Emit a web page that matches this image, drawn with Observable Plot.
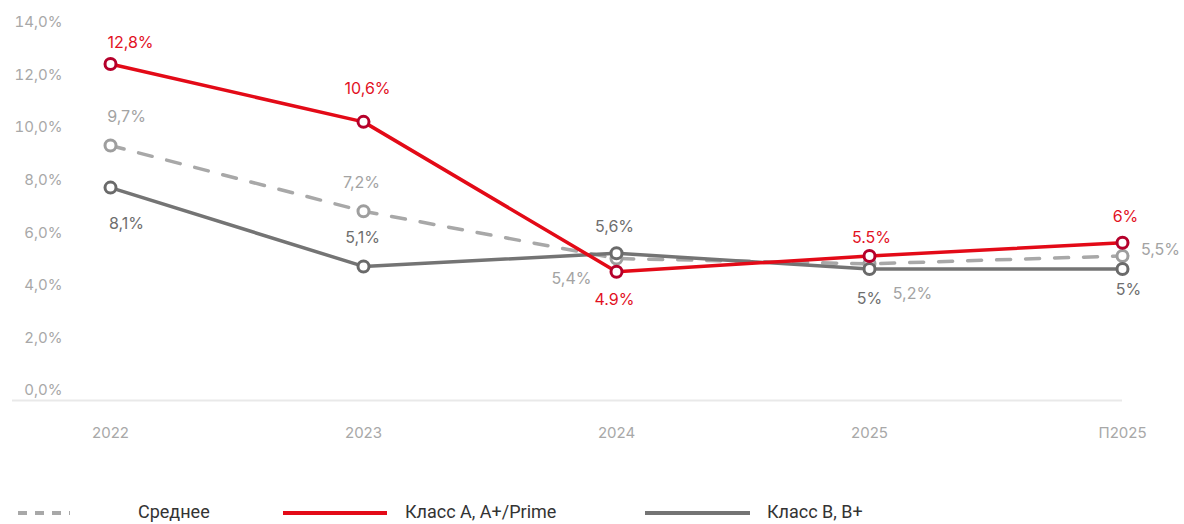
<!DOCTYPE html>
<html>
<head>
<meta charset="utf-8">
<script src="https://cdn.jsdelivr.net/npm/d3@7"></script>
<script src="https://cdn.jsdelivr.net/npm/@observablehq/plot@0.6"></script>
<style>
  html, body { margin: 0; padding: 0; background: #fff; }
  #chart { width: 1184px; }
  #legend { position: relative; width: 1184px; height: 54px; font-family: Roboto, "Noto Sans", sans-serif; font-size: 18px; color: #333; }
  #legend .sw { position: absolute; top: 41px; height: 4px; }
  #legend .lb { position: absolute; top: 31px; line-height: 22px; white-space: nowrap; }
</style>
</head>
<body>
<div id="chart"></div>
<div id="legend"></div>
<script>
// ---- data ----
const categories = ["2022", "2023", "2024", "2025", "П2025"];
const avgValues = [9.7, 7.2, 5.4, 5.2, 5.5];
const classAValues = [12.8, 10.6, 4.9, 5.5, 6.0];
const classBValues = [8.1, 5.1, 5.6, 5.0, 5.0];
const avgLabels = ["9,7%", "7,2%", "5,4%", "5,2%", "5,5%"];
const classALabels = ["12,8%", "10,6%", "4.9%", "5.5%", "6%"];
const classBLabels = ["8,1%", "5,1%", "5,6%", "5%", "5%"];
const yTicks = [0, 2, 4, 6, 8, 10, 12, 14];
const seriesNames = ["Среднее", "Класс А, А+/Prime", "Класс В, В+"];

// ---- build tables ----
const mk = (vals, labs) => categories.map((c, i) => ({cat: c, value: vals[i], label: labs[i]}));
const avg = mk(avgValues, avgLabels);
const clA = mk(classAValues, classALabels);
const clB = mk(classBValues, classBLabels);

// label placement offsets (dx, dy) per point
const avgPlace = [[16, -29], [-2, -28], [-45, 20], [43, 30], [38, -6]];
const clAPlace = [[20, -21], [4, -33], [-2, 28], [2, -18], [3, -26]];
const clBPlace = [[16, 36], [-1, -29], [-2, -26], [0, 30], [6, 21]];

const RED = "#e30a17", RED_DOT = "#b5002b", GREY = "#747474", GREY_DOT = "#6a6a6a", DASH = "#a8a8a8", DASH_DOT = "#9e9e9e";

function labels(data, place, color) {
  return place.map(([dx, dy], k) => Plot.text(data, {
    filter: (d, i) => i === k, x: "cat", y: "value", text: "label",
    dx, dy, fill: color, fontSize: 16, textAnchor: "middle", lineAnchor: "middle"
  }));
}

const chart = Plot.plot({
  width: 1184,
  height: 470,
  marginLeft: 12,
  marginRight: 62,
  marginTop: 32,
  marginBottom: 70,
  style: {fontFamily: "Inter, 'Open Sans', sans-serif", background: "#fff"},
  x: {type: "point", domain: categories, padding: 0, insetLeft: 98, label: null},
  y: {domain: [0, 14], label: null},
  marks: [
    Plot.ruleY([0], {stroke: "#e9e9e9", strokeWidth: 2}),
    Plot.axisY({ticks: yTicks, tickSize: 0, tickPadding: 3, dx: 53, dy: -10, textAnchor: "end",
      tickFormat: d => d.toFixed(1).replace(".", ",") + "%", fill: "#a8a8a8", fontSize: 15, label: null}),
    Plot.axisX({tickSize: 0, tickPadding: 27, fill: "#a8a8a8", fontSize: 15, label: null}),
    Plot.line(avg, {x: "cat", y: "value", stroke: DASH, strokeWidth: 3.5, strokeDasharray: "14,15"}),
    Plot.line(clB, {x: "cat", y: "value", stroke: GREY, strokeWidth: 3.5}),
    Plot.line(clA, {x: "cat", y: "value", stroke: RED, strokeWidth: 3.5}),
    Plot.dot(avg, {x: "cat", y: "value", r: 5.5, fill: "white", stroke: DASH_DOT, strokeWidth: 3}),
    Plot.dot(clB, {x: "cat", y: "value", r: 5.5, fill: "white", stroke: GREY_DOT, strokeWidth: 3}),
    Plot.dot(clA, {x: "cat", y: "value", r: 5.5, fill: "white", stroke: RED_DOT, strokeWidth: 3}),
    ...labels(avg, avgPlace, "#a3a3a3"),
    ...labels(clB, clBPlace, "#6e6e6e"),
    ...labels(clA, clAPlace, "#e2121f")
  ]
});
document.getElementById("chart").appendChild(chart);

// ---- legend ----
const legend = document.getElementById("legend");
const items = [
  {name: seriesNames[0], color: DASH, dashed: true, swLeft: 18, swWidth: 52, lbLeft: 138},
  {name: seriesNames[1], color: RED, dashed: false, swLeft: 283, swWidth: 104, lbLeft: 405},
  {name: seriesNames[2], color: GREY, dashed: false, swLeft: 645, swWidth: 105, lbLeft: 767}
];
items.forEach(it => {
  const sw = document.createElement("div");
  sw.className = "sw";
  sw.style.left = it.swLeft + "px";
  sw.style.width = it.swWidth + "px";
  sw.style.background = it.dashed
    ? `repeating-linear-gradient(to right, ${it.color} 0 9px, transparent 9px 17px)`
    : it.color;
  legend.appendChild(sw);
  const lb = document.createElement("div");
  lb.className = "lb";
  lb.style.left = it.lbLeft + "px";
  lb.textContent = it.name;
  legend.appendChild(lb);
});
</script>
</body>
</html>
